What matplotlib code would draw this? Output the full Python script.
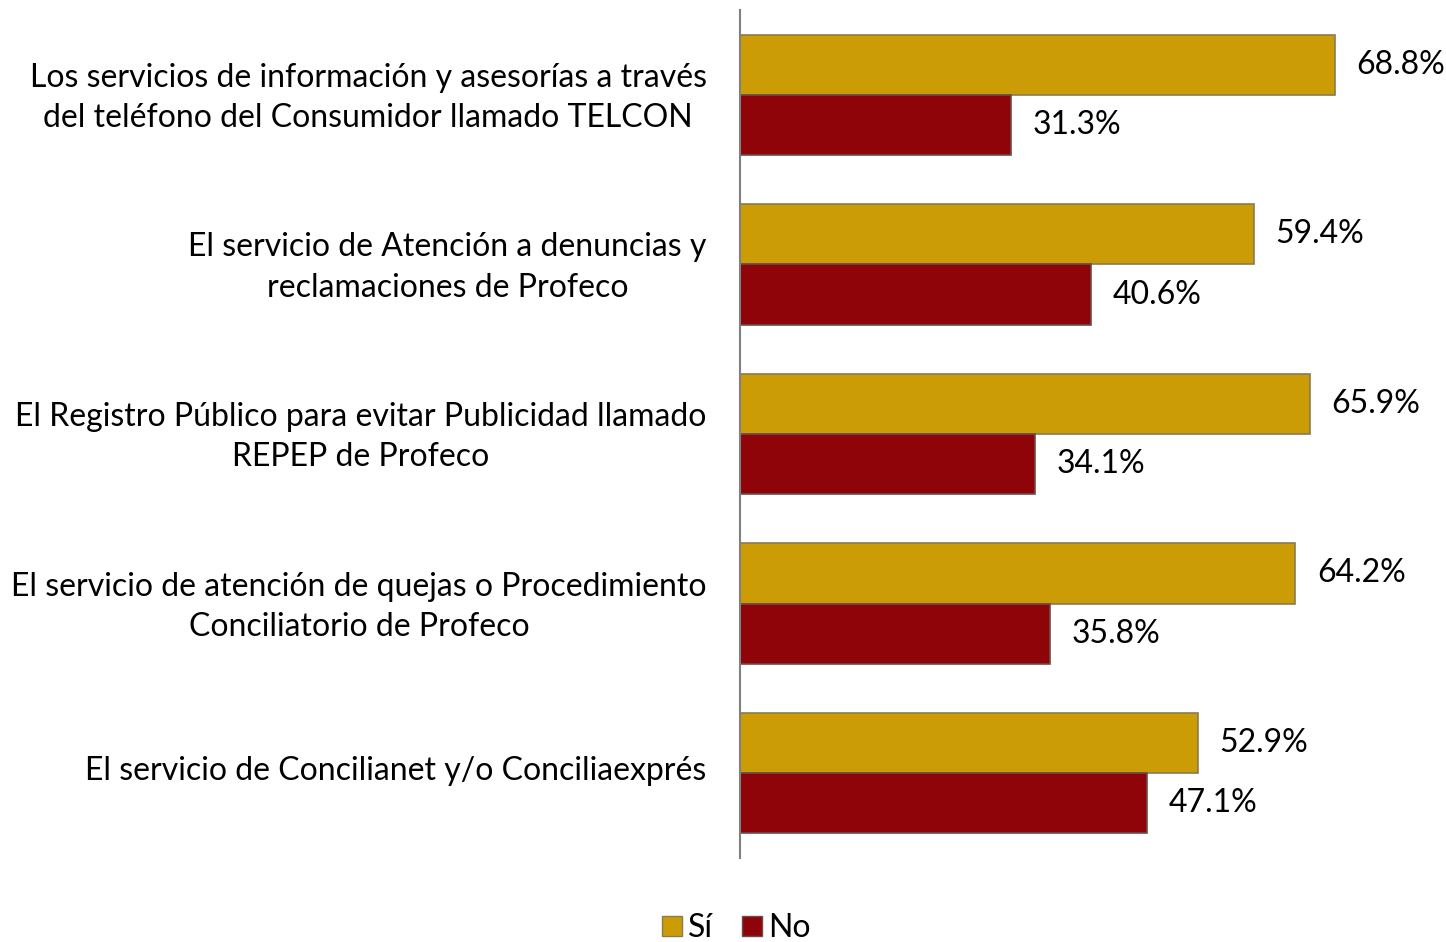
import matplotlib.pyplot as plt
import matplotlib.transforms as mtransforms
from matplotlib.lines import Line2D
import numpy as np

plt.rcParams['font.family'] = ['Lato', 'DejaVu Sans']

categories = [
    "Los servicios de información y asesorías a través\ndel teléfono del Consumidor llamado TELCON",
    "El servicio de Atención a denuncias y\nreclamaciones de Profeco",
    "El Registro Público para evitar Publicidad llamado\nREPEP de Profeco",
    "El servicio de atención de quejas o Procedimiento\nConciliatorio de Profeco",
    "El servicio de Concilianet y/o Conciliaexprés",
]
si_values = [68.8, 59.4, 65.9, 64.2, 52.9]
no_values = [31.3, 40.6, 34.1, 35.8, 47.1]
series_names = ["Sí", "No"]

si_color = '#CC9C06'
no_color = '#8F0408'

fig = plt.figure(figsize=(14.46, 9.42), dpi=100)
ax = fig.add_axes([740 / 1446, 84 / 942, 692 / 1446, 848 / 942])

y = np.arange(len(categories))
h = 0.355
ax.barh(y - h / 2, si_values, height=h, color=si_color, edgecolor='#8a7a50', linewidth=1.2)
ax.barh(y + h / 2, no_values, height=h, color=no_color, edgecolor='#6b4b4b', linewidth=1.2)

# value labels right of each bar
for i in range(len(categories)):
    ax.text(si_values[i] + 2.5, y[i] - h / 2, f"{si_values[i]:.1f}%", va='center', ha='left', fontsize=23)
    ax.text(no_values[i] + 2.5, y[i] + h / 2, f"{no_values[i]:.1f}%", va='center', ha='left', fontsize=23)

ax.set_xlim(0, 80)
ax.set_ylim(len(categories) - 0.5, -0.5)
ax.set_yticks(y)
ax.set_yticklabels(categories, fontsize=23, multialignment='center', linespacing=1.43)
ax.tick_params(axis='y', length=0, pad=24)
# nudge category labels up a little
shift = mtransforms.ScaledTranslation(0, 5 / 100, fig.dpi_scale_trans)
for lbl in ax.get_yticklabels():
    lbl.set_transform(lbl.get_transform() + shift)
ax.set_xticks([])
for s in ['top', 'right', 'bottom']:
    ax.spines[s].set_visible(False)
ax.spines['left'].set_color('#808080')
ax.spines['left'].set_linewidth(1.5)
ax.patch.set_alpha(0)

handles = [
    Line2D([], [], marker='s', linestyle='none', markersize=15, markerfacecolor=si_color, markeredgecolor='#8a7a50'),
    Line2D([], [], marker='s', linestyle='none', markersize=15, markerfacecolor=no_color, markeredgecolor='#6b4b4b'),
]
fig.legend(handles, series_names, loc='center', bbox_to_anchor=(735 / 1446, 1 - 928 / 942), ncol=2,
           frameon=False, fontsize=23, handletextpad=0.1, columnspacing=0.8, handlelength=0.8)

fig.savefig('out.png', dpi=100)
